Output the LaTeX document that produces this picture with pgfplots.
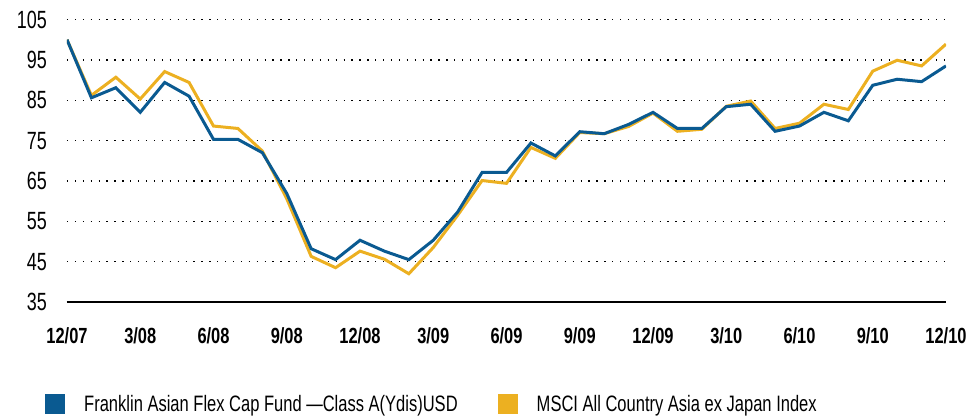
\documentclass[border=0pt]{standalone}
\usepackage{pgfplots}
\pgfplotsset{compat=1.18}
\usepackage{pgfplotstable}
\usepackage{fontspec}
\setmainfont{Liberation Sans}
\newfontfamily\ytickfont{Liberation Sans}[FakeStretch=0.72]
\newfontfamily\xtickfont{Liberation Sans}[FakeStretch=0.75]
\newfontfamily\legfont{Liberation Sans}[FakeStretch=0.74]
\definecolor{fundblue}{RGB}{10,90,145}
\definecolor{idxyellow}{RGB}{236,176,33}

\pgfplotstableread{
m fund index
0 100 100
1 85.6 86.2
2 88.1 90.7
3 82.0 85.3
4 89.4 92.1
5 86.0 89.4
6 75.3 78.6
7 75.3 78.0
8 72.0 72.4
9 61.9 60.6
10 48.2 46.3
11 45.5 43.5
12 50.3 47.6
13 47.6 45.6
14 45.5 42.0
15 50.3 48.5
16 57.3 56.5
17 67.1 65.1
18 67.1 64.4
19 74.4 73.3
20 71.2 70.6
21 77.2 77.0
22 76.7 76.7
23 79.0 78.5
24 82.0 81.8
25 78.0 77.3
26 78.0 77.8
27 83.4 83.5
28 84.0 84.8
29 77.3 78.0
30 78.6 79.3
31 82.0 84.0
32 79.9 82.7
33 88.7 92.2
34 90.2 94.9
35 89.6 93.5
36 93.5 98.9
}\data

\begin{document}
\begin{tikzpicture}
\path[use as bounding box] (-67bp,-114bp) rectangle (904bp,302bp);
\begin{axis}[
  at={(0,0)}, anchor=south west,
  scale only axis, width=879bp, height=282.5bp,
  xmin=0, xmax=36, ymin=35, ymax=105,
  axis x line*=bottom, axis y line*=left,
  x axis line style={-, line width=2bp, black},
  y axis line style={draw=none},
  ytick={35,45,...,105},
  xtick={0,3,...,36},
  xticklabels={12/07,3/08,6/08,9/08,12/08,3/09,6/09,9/09,12/09,3/10,6/10,9/10,12/10},
  major tick length=0pt,
  ymajorgrids,
  grid style={black, line width=1.3bp, dash pattern=on 1.3bp off 6.6bp},
  /pgf/number format/assume math mode=true,
  yticklabel style={font=\ytickfont\fontsize{25}{25}\selectfont, anchor=east, inner sep=0pt, xshift=-20bp},
  xticklabel style={font=\xtickfont\bfseries\fontsize{22}{22}\selectfont, anchor=north, inner sep=0pt, yshift=-25bp},
  legend columns=2,
  legend style={at={(-0.025,-0.3628)}, anchor=west, draw=none, fill=none, inner sep=0pt,
    nodes={inner sep=0pt},
    font=\legfont\fontsize{22.4}{22.4}\selectfont,
    /tikz/every odd column/.append style={column sep=19bp},
    /tikz/every even column/.append style={column sep=40bp}},
  legend cell align=left,
  legend image code/.code={\fill[#1] (0bp,-8.5bp) rectangle (17bp,8.5bp);},
]
\addlegendimage{fundblue, line width=3bp}
\addlegendentry{Franklin Asian Flex Cap Fund —Class A(Ydis)USD}
\addlegendimage{idxyellow, line width=3bp}
\addlegendentry{MSCI All Country Asia ex Japan Index}
\addplot[idxyellow, line width=3bp, forget plot] table[x=m, y=index] {\data};
\addplot[fundblue, line width=3bp, forget plot] table[x=m, y=fund] {\data};
\end{axis}
\end{tikzpicture}
\end{document}
